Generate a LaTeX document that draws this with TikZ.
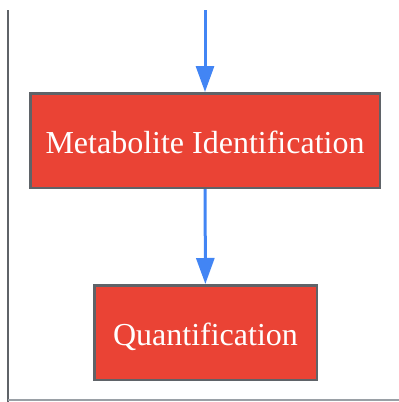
\documentclass[tikz,border=0pt]{standalone}
\usepackage{fontspec}
\setmainfont{Liberation Serif}
\usetikzlibrary{positioning,arrows.meta}
\definecolor{stagered}{HTML}{EA4335}
\definecolor{stagegray}{HTML}{5F6368}
\definecolor{flowblue}{HTML}{4285F4}
\definecolor{axisgray}{HTML}{9AA0A6}

\begin{document}
\begin{tikzpicture}[x=1pt,y=-1pt,
	stage/.style={draw=stagegray, line width=2.5pt, fill=stagered, text=white,
		font=\fontsize{32}{36}\selectfont, inner sep=0pt, text height=25.5pt, text depth=0pt,
		minimum height=94.5pt},
	flow/.style={draw=flowblue, line width=3pt, -{Triangle[length=26pt,width=18pt]}}]
	\useasboundingbox (0,0) rectangle (399,402);
	\def\midx{205};
	% frame
	\draw[stagegray, line width=2.5pt] (8,10) -- (8,402);
	\draw[axisgray, line width=1.5pt] (8,400) -- (399,400);
	% stages
	\node[stage, minimum width=349.5pt] (ident) at (\midx,140.5) {Metabolite Identification};
	\node[stage, minimum width=222.5pt] (quant) at (205.5,332.5) {Quantification};
	\coordinate (entry) at (\midx,10);
	\draw[flow] (entry) -- (ident.north);
	\draw[flow] (ident) -- (quant);
\end{tikzpicture}
\end{document}
